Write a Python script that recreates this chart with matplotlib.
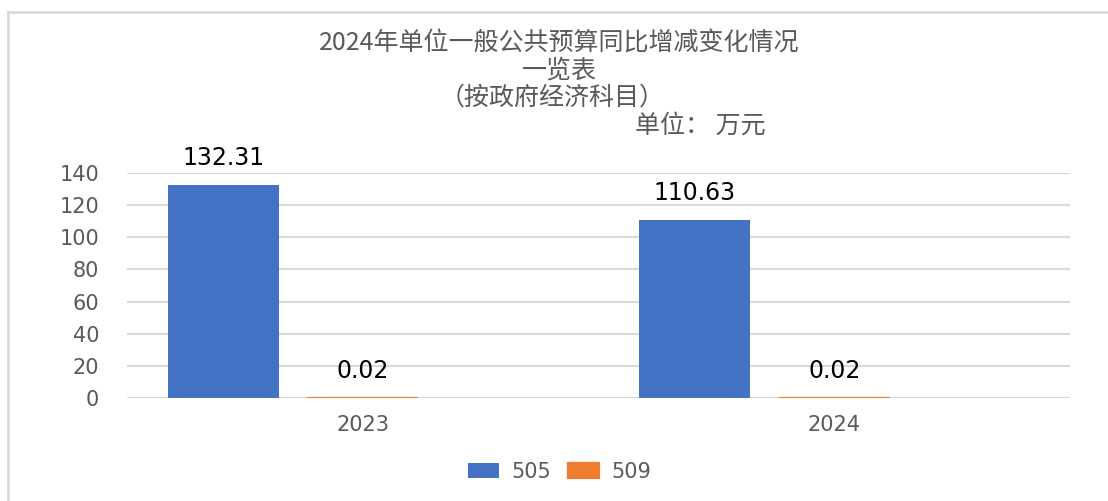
import matplotlib.pyplot as plt
from matplotlib.lines import Line2D
import numpy as np

plt.rcParams['font.family'] = ['Noto Sans CJK SC', 'DejaVu Sans']

years = ["2023", "2024"]
series_names = ["505", "509"]
vals_505 = [132.31, 110.63]
vals_509 = [0.02, 0.02]
yticks = [0, 20, 40, 60, 80, 100, 120, 140]
title_lines = ["2024年单位一般公共预算同比增减变化情况", "一览表", "（按政府经济科目）"]
unit_text = "单位： 万元"

blue = "#4472C4"
orange = "#ED7D31"
grey = "#595959"

fig = plt.figure(figsize=(11.08, 5.01), dpi=100)
ax = fig.add_axes([0.1146, 0.2056, 0.8511, 0.4491])

x = np.arange(len(years))
w = 0.235
b1 = ax.bar(x - 0.296, vals_505, w, color=blue, label=series_names[0])
b2 = ax.bar(x, vals_509, w, color=orange, edgecolor=orange, linewidth=1.6,
            label=series_names[1])

for bars, vals in [(b1, vals_505), (b2, vals_509)]:
    for r, v in zip(bars, vals):
        ax.annotate(f"{v:.2f}", (r.get_x() + r.get_width() / 2, r.get_height()),
                    xytext=(0, 11), textcoords="offset points", ha="center", va="bottom",
                    fontsize=17, color="black", family="DejaVu Sans")

ax.set_xlim(-0.5, 1.5)
ax.set_ylim(0, 140)
ax.set_yticks(yticks)
ax.set_yticklabels([str(t) for t in yticks], family="DejaVu Sans")
ax.set_xticks(x)
ax.set_xticklabels(years, family="DejaVu Sans")
ax.tick_params(axis="y", length=0, pad=20, labelsize=15, labelcolor=grey)
ax.tick_params(axis="x", length=0, pad=12, labelsize=15, labelcolor=grey)
ax.grid(axis="y", color="#d9d9d9", linewidth=1.5)
ax.set_axisbelow(True)
for s in ax.spines.values():
    s.set_visible(False)

fig.text(0.505, 0.914, title_lines[0], ha="center", va="center", fontsize=18, color=grey)
fig.text(0.505, 0.860, title_lines[1], ha="center", va="center", fontsize=18, color=grey)
fig.text(0.498, 0.806, title_lines[2], ha="center", va="center", fontsize=18, color=grey)
fig.text(0.632, 0.750, unit_text, ha="center", va="center", fontsize=18, color=grey)

leg = fig.legend(handles=[b1, b2], loc="center", bbox_to_anchor=(0.505, 0.058), ncol=2,
                 frameon=False, handlelength=1.5, handleheight=0.7,
                 columnspacing=0.8, handletextpad=0.6, prop={"family": "DejaVu Sans", "size": 15})
for t in leg.get_texts():
    t.set_color(grey)

# frame lines of the original picture
fig.add_artist(Line2D([8 / 1108, 8 / 1108], [0, 1 - 12 / 501], transform=fig.transFigure,
                      color="#d9d9d9", linewidth=2))
fig.add_artist(Line2D([8 / 1108, 1], [1 - 12 / 501, 1 - 12 / 501], transform=fig.transFigure,
                      color="#d9d9d9", linewidth=2))

fig.savefig("out.png", dpi=100)
